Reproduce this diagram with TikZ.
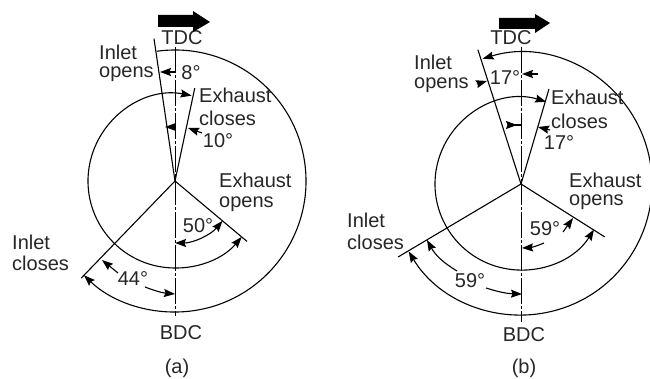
\documentclass[tikz,border=0pt]{standalone}
\usepackage{fontspec}
\setmainfont{Liberation Sans}
\usetikzlibrary{arrows.meta}
\tikzset{
  txt/.style={font=\fontsize{20}{22}\selectfont,inner sep=0pt,text=black!85},
  lbl/.style={txt,anchor=west},
  trace/.style={line width=1.1pt},
  timing/.style={line width=1.1pt,{Stealth[length=11pt,width=8pt,inset=1.5pt]}-{Stealth[length=11pt,width=8pt,inset=1.5pt]}},
  tip/.style={line width=1.1pt,-{Stealth[length=11pt,width=8pt,inset=1.5pt]}},
  axis/.style={line width=0.9pt,dash pattern=on 26pt off 2pt on 3pt off 2pt},
  rot/.style={fill=black,draw=none}
}
\begin{document}
\begin{tikzpicture}[x=1pt,y=1pt]
  \useasboundingbox (0,0) rectangle (650,378);
  % (a)
  \coordinate (Oa) at (175,197);
  \coordinate (tdca) at (175,331);
  \coordinate (bdca) at (175,62);
  \draw[axis] (tdca) -- (bdca);
  \draw[trace] (Oa) -- ++(98.4:144) coordinate (ioa);
  \draw[trace] (Oa) -- ++(78:95) coordinate (eca);
  \draw[trace] (Oa) -- ++(320:94) coordinate (eoa);
  \draw[trace] (Oa) -- ++(226:135) coordinate (ica);
  \draw[tip] (Oa) ++(98:131) arc[start angle=98,end angle=-134,radius=131];
  \draw[timing] (Oa) ++(79:87) arc[start angle=79,end angle=320,radius=87];
  \draw[timing] (Oa) ++(270:62) arc[start angle=270,end angle=320,radius=62];
  % small arrows (a)
  \draw[tip] (176,306) -- (160,306);
  \draw[tip] (176,251) -- (165,251);
  \draw[tip] (202,245) -- (188,250);
  \draw[tip] (118,105) -- (102,118);
  \draw[tip] (145,91) to[bend right=8] (175,84);
  % labels (a)
  \node[lbl] (inleta) at (99,326) {Inlet};
  \node[lbl] (opensa) at (99,304) {opens};
  \node[txt] (tdctxta) at (182,340) {TDC};
  \node[txt] (eighta) at (191,305) {8°};
  \node[lbl] (exha) at (199,283) {Exhaust};
  \node[lbl] (clsa) at (199,260) {closes};
  \node[txt] (tena) at (218,237) {10°};
  \node[lbl] (exoa) at (219,198) {Exhaust};
  \node[lbl] (opoa) at (219,174) {opens};
  \node[txt] (fiftya) at (198,152) {50°};
  \node[lbl] (inca) at (12,136) {Inlet};
  \node[lbl] (clca) at (12,115) {closes};
  \node[txt] (fortyfour) at (133,99) {44°};
  \node[txt] (bdctxta) at (181,45) {BDC};
  \node[txt] (capa) at (177,10) {(a)};
  \fill[rot] (158,363) -- (193,363) -- (193,367) -- (210,356) -- (193,346) -- (193,351) -- (158,351) -- cycle;
  % (b)
  \coordinate (Ob) at (521,194);
  \coordinate (tdcb) at (521,331);
  \coordinate (bdcb) at (521,56);
  \draw[axis] (tdcb) -- (bdcb);
  \draw[trace] (Ob) -- ++(107.8:141) coordinate (iob);
  \draw[trace] (Ob) -- ++(73.6:99) coordinate (ecb);
  \draw[trace] (Ob) -- ++(327.7:99) coordinate (eob);
  \draw[trace] (Ob) -- ++(210.7:143) coordinate (icb);
  \draw[timing] (Ob) ++(107:131) arc[start angle=107,end angle=-149,radius=131];
  \draw[timing] (Ob) ++(73:86) arc[start angle=73,end angle=328,radius=86];
  % small arrows (b)
  \draw[tip] (477,294) -- (487,297);
  \draw[tip] (538,304) -- (522,304);
  \draw[trace] (510,253) -- (521,253);
  \draw[tip] (508,253) -- (517,253);
  \draw[tip] (550,248) -- (538,251);
  \draw[tip] (563,146) -- (573,160);
  \draw[tip] (544,135) to[bend left=10] (522,130);
  \draw[tip] (457,107) to[bend left=15] (427,138);
  \draw[tip] (486,90) to[bend right=8] (522,84);
  % labels (b)
  \node[lbl] (inletb) at (414,316) {Inlet};
  \node[lbl] (opensb) at (414,293) {opens};
  \node[txt] (tdctxtb) at (511,340) {TDC};
  \node[txt] (seva) at (505,300) {17°};
  \node[lbl] (exhb) at (551,281) {Exhaust};
  \node[lbl] (clsb) at (551,257) {closes};
  \node[txt] (sevb) at (559,235) {17°};
  \node[lbl] (exob) at (569,198) {Exhaust};
  \node[lbl] (opob) at (569,176) {opens};
  \node[txt] (fiftynb) at (545,149) {59°};
  \node[lbl] (incb) at (347,158) {Inlet};
  \node[lbl] (clcb) at (347,136) {closes};
  \node[txt] (fiftync) at (470,97) {59°};
  \node[txt] (bdctxtb) at (524,43) {BDC};
  \node[txt] (capb) at (524,10) {(b)};
  \fill[rot] (499,360) -- (535,360) -- (535,364) -- (550,355) -- (535,345) -- (535,349) -- (499,349) -- cycle;
\end{tikzpicture}
\end{document}
